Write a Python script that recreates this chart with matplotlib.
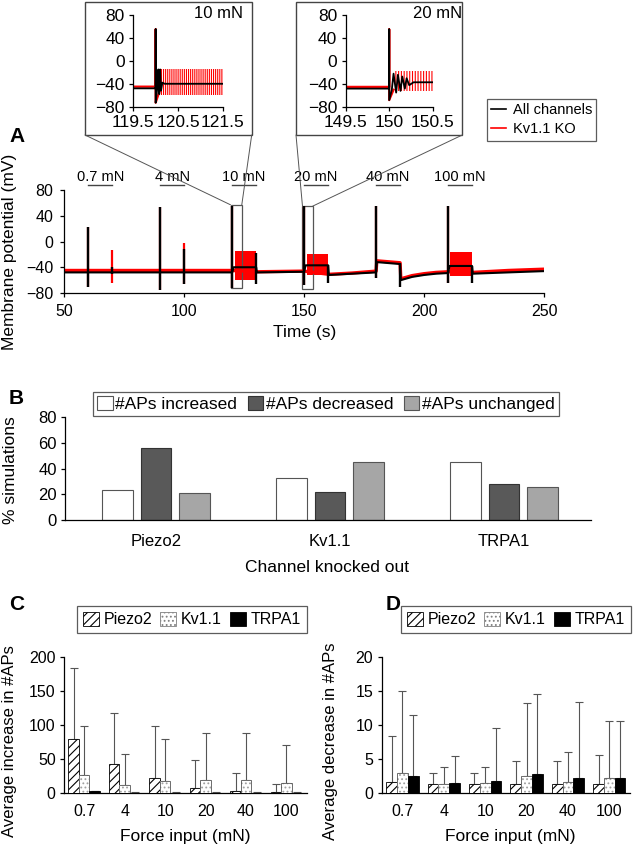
import numpy as np
import matplotlib
matplotlib.use("Agg")
import matplotlib.pyplot as plt
from matplotlib.patches import Rectangle, Patch, ConnectionPatch
from matplotlib.lines import Line2D

plt.rcParams.update({
    "font.family": ["Liberation Sans", "DejaVu Sans"],
    "font.size": 11, "axes.linewidth": 0.9, "hatch.linewidth": 0.8,
    "xtick.major.width": 0.9, "ytick.major.width": 0.9,
    "xtick.major.size": 3, "ytick.major.size": 3,
})
W, H = 633, 848

# ---------------- panel A data (time in s, potential in mV) ----------------
black_t = [50, 120, 120.6, 130, 130.3, 150, 150.6, 160, 160.3, 170, 180, 180.3,
           190, 190.3, 195, 200, 205, 210, 210.6, 220, 220.3, 235, 250]
black_v = [-48, -48, -40, -40, -48, -47, -37, -37, -52, -50, -48, -32,
           -35, -60, -55, -52, -50, -49, -38, -38, -50, -48, -46]
red_t = [50, 120, 130.3, 150, 160.3, 170, 180, 180.3, 190, 190.3, 195, 200,
         205, 210, 220.3, 235, 250]
red_v = [-45, -45, -47, -46, -51, -49, -46, -30, -33, -58, -53, -50,
         -48, -47, -48, -45, -43]
spike_t = [60, 70, 90, 100, 120, 130, 150, 160, 180, 190, 210, 220]
spike_lo = [-70, -51, -75, -66, -73, -66, -68, -65, -57, -70, -65, -65]
spike_hi = [22, -40, 53, -12, 55, -18, 55, -37, 55, -34, 55, -38]
red_spike_t = [60, 70, 90, 100, 120, 150, 180, 210]
red_spike_lo = [-70, -65, -75, -66, -73, -68, -57, -65]
red_spike_hi = [22, -13, 53, -3, 55, 55, 55, 55]
band_t0 = [121, 151, 211]
band_t1 = [130, 160, 220]
band_lo = [-60, -52, -53]
band_hi = [-14, -19, -17]
stim_t = [60, 90, 120, 150, 180, 210]
stim_labels = ["0.7 mN", "4 mN", "10 mN", "20 mN", "40 mN", "100 mN"]

# insets
ins1_black_t = [119.5, 120.0, 120.0, 120.0, 120.04, 120.06, 120.08, 120.1,
                120.12, 120.15, 120.2, 121.5]
ins1_black_v = [-48, -48, 55, -73, -45, -15, -58, -15, -52, -38, -40, -40]
ins1_red_t = [119.5, 120.0, 120.0, 120.0, 120.1]
ins1_red_v = [-45, -45, 55, -73, -50]
ins1_band = (120.1, 121.5, -60, -14)
ins2_black_t = [149.5, 150.0, 150.0, 150.0, 150.03, 150.05, 150.08, 150.1,
                150.13, 150.15, 150.18, 150.2, 150.23, 150.28, 150.5]
ins2_black_v = [-48, -48, 55, -68, -50, -22, -55, -24, -52, -27, -48, -30,
                -42, -37, -37]
ins2_red_t = [149.5, 150.0, 150.0, 150.0, 150.05]
ins2_red_v = [-45, -45, 55, -68, -50]
ins2_band = (150.05, 150.5, -52, -18)

# ---------------- panel B data ----------------
channels = ["Piezo2", "Kv1.1", "TRPA1"]
pct_increased = [23, 33, 45]
pct_decreased = [56, 22, 28]
pct_unchanged = [21, 45, 26]

# ---------------- panels C, D data ----------------
forces = ["0.7", "4", "10", "20", "40", "100"]
inc_piezo = [79, 43, 22, 8, 4, 2]
inc_piezo_sd = [104, 75, 76, 41, 25, 12]
inc_kv = [27, 12, 18, 20, 20, 15]
inc_kv_sd = [71, 45, 61, 69, 68, 55]
inc_trpa = [3, 1, 1, 1, 1, 1]
inc_trpa_sd = [1, 0.5, 0.5, 0.5, 0.5, 0.5]
dec_piezo = [1.6, 1.3, 1.3, 1.4, 1.4, 1.4]
dec_piezo_sd = [6.8, 1.6, 1.6, 3.3, 3.3, 4.2]
dec_kv = [3.0, 1.4, 1.5, 2.6, 1.7, 2.3]
dec_kv_sd = [12.0, 2.5, 2.4, 10.6, 4.4, 8.3]
dec_trpa = [2.5, 1.5, 1.8, 2.8, 2.3, 2.3]
dec_trpa_sd = [9.0, 4.0, 7.7, 11.8, 11.0, 8.3]


def box(l, t, r, b):
    return [l / W, 1 - b / H, (r - l) / W, (b - t) / H]


def fx(px):
    return px / W


def fy(py):
    return 1 - py / H


fig = plt.figure(figsize=(W / 100, H / 100), dpi=100)

# ================= A =================
axA = fig.add_axes(box(64.3, 190, 544, 293))
axA.plot(red_t, red_v, color="red", lw=2.4)
axA.vlines(red_spike_t, red_spike_lo, red_spike_hi, color="red", lw=1.6)
for t0, t1, lo, hi in zip(band_t0, band_t1, band_lo, band_hi):
    axA.fill_between([t0, t1], [lo, lo], [hi, hi], color="red", lw=0)
axA.plot(black_t, black_v, color="black", lw=1.5)
axA.vlines(spike_t, spike_lo, spike_hi, color="black", lw=1.7)
for t, lab in zip(stim_t, stim_labels):
    axA.plot([t, t + 10], [88, 88], color="#444444", lw=1.0, clip_on=False)
    axA.text(t + 5, 100, lab, ha="center", va="center", fontsize=10.5)
axA.set_xlim(50, 250)
axA.set_ylim(-80, 80)
axA.set_xticks([50, 100, 150, 200, 250])
axA.set_yticks([-80, -40, 0, 40, 80])
axA.tick_params(labelsize=11.5, pad=5)
for s in ["top", "right"]:
    axA.spines[s].set_visible(False)

zoom_boxes = [(119.3, 124.0, -73, 57), (149.3, 153.6, -74, 55)]
for x0, x1, y0, y1 in zoom_boxes:
    axA.add_patch(Rectangle((x0, y0), x1 - x0, y1 - y0, fill=False,
                            ec="#555555", lw=0.9, clip_on=False))

frames = [(85, 1.7, 251.7, 135), (296, 1.7, 462.3, 135)]
for (l, t, r, b), (x0, x1, y0, y1) in zip(frames, zoom_boxes):
    fig.add_artist(Rectangle((fx(l), fy(b)), (r - l) / W, (b - t) / H,
                             transform=fig.transFigure, fill=False,
                             ec="#444444", lw=1.0))
    for xf, xd in [(l, x0), (r, x1)]:
        fig.add_artist(ConnectionPatch((fx(xf), fy(b)), (xd, y1),
                                       coordsA=fig.transFigure,
                                       coordsB=axA.transData,
                                       color="#555555", lw=0.7))

insets = [
    (box(133.3, 15, 222.7, 106.7), ins1_black_t, ins1_black_v, ins1_red_t,
     ins1_red_v, ins1_band, [119.5, 120.5, 121.5], ["119.5", "120.5", "121.5"],
     "10 mN", 243, "||||||||"),
    (box(345.7, 15, 432.7, 107), ins2_black_t, ins2_black_v, ins2_red_t,
     ins2_red_v, ins2_band, [149.5, 150, 150.5], ["149.5", "150", "150.5"],
     "20 mN", 462, "||||||"),
]
for pos, bt, bv, rt, rv, band, xt, xtl, title, tx, hatch in insets:
    ax = fig.add_axes(pos)
    ax.fill_between([band[0], band[1]], [band[2]] * 2, [band[3]] * 2,
                    facecolor="none", edgecolor="red", hatch=hatch, lw=0)
    ax.plot(rt, rv, color="red", lw=1.6)
    ax.plot(bt, bv, color="black", lw=1.3)
    ax.set_xlim(xt[0], xt[-1])
    ax.set_ylim(-80, 80)
    ax.set_xticks(xt)
    ax.set_xticklabels(xtl)
    ax.set_yticks([-80, -40, 0, 40, 80])
    ax.tick_params(labelsize=12.5, pad=3)
    for s in ["top", "right"]:
        ax.spines[s].set_visible(False)
    fig.text(fx(tx), fy(13), title, ha="right", va="center", fontsize=12)

legA = fig.legend(handles=[Line2D([], [], color="black", lw=1.2),
                           Line2D([], [], color="red", lw=1.2)],
                  labels=["All channels", "Kv1.1 KO"], loc="upper left",
                  bbox_to_anchor=(fx(487), fy(99)), fancybox=False,
                  edgecolor="#333333", fontsize=10.5, handlelength=1.0,
                  borderaxespad=0, borderpad=0.3, handletextpad=0.45,
                  labelspacing=0.35)
legA.get_frame().set_linewidth(0.9)

fig.text(fx(9), fy(137), "A", weight="bold", fontsize=15, va="center")
fig.text(fx(10), fy(252), "Membrane potential (mV)", rotation=90,
         ha="center", va="center", fontsize=12.5)
fig.text(fx(305), fy(332), "Time (s)", ha="center", va="center", fontsize=12.5)

# ================= B =================
axB = fig.add_axes(box(65, 417.3, 591, 520))
xb = np.arange(len(channels))
bw, off = 0.178, 0.224
b1 = axB.bar(xb - off, pct_increased, bw, color="white", ec="#555555", lw=0.8)
b2 = axB.bar(xb, pct_decreased, bw, color="#595959", ec="#333333", lw=0.8)
b3 = axB.bar(xb + off, pct_unchanged, bw, color="#a6a6a6", ec="#555555", lw=0.8)
axB.set_xlim(-0.523, 2.5)
axB.set_ylim(0, 80)
axB.set_yticks([0, 20, 40, 60, 80])
axB.set_xticks(xb)
axB.set_xticklabels(channels)
axB.tick_params(axis="x", length=0, pad=10, labelsize=12)
axB.tick_params(axis="y", labelsize=12, pad=3)
for s in ["top", "right"]:
    axB.spines[s].set_visible(False)
legB = fig.legend([b1, b2, b3],
                  ["#APs increased", "#APs decreased", "#APs unchanged"],
                  loc="center", bbox_to_anchor=(fx(326), fy(404)), ncol=3,
                  fancybox=False, edgecolor="#333333", fontsize=12.5,
                  handlelength=0.9, handleheight=0.9, handletextpad=0.15,
                  columnspacing=0.6, borderpad=0.25, borderaxespad=0)
legB.get_frame().set_linewidth(0.9)
fig.text(fx(9), fy(399), "B", weight="bold", fontsize=15, va="center")
fig.text(fx(11), fy(470), "% simulations", rotation=90, ha="center",
         va="center", fontsize=12.5)
fig.text(fx(327), fy(568), "Channel knocked out", ha="center", va="center",
         fontsize=12.5)

# ================= C, D =================
xc = np.arange(len(forces))
cw, coff = 0.26, 0.26
panels = [
    (box(64, 656.7, 306.7, 793.3), inc_piezo, inc_piezo_sd, inc_kv, inc_kv_sd,
     inc_trpa, inc_trpa_sd, [0, 50, 100, 150, 200], "C", 9, 192,
     "Average increase in #APs", 10, 185),
    (box(381.7, 656.7, 630, 793.3), dec_piezo, dec_piezo_sd, dec_kv,
     dec_kv_sd, dec_trpa, dec_trpa_sd, [0, 5, 10, 15, 20], "D", 386,
     516, "Average decrease in #APs", 331, 510),
]
for (pos, pz, pz_sd, kv, kv_sd, tr, tr_sd, yt, letter, lx, gc,
     ylab, ylx, xlx) in panels:
    ax = fig.add_axes(pos)
    ax.errorbar(xc - coff, pz, yerr=[np.zeros(len(pz)), pz_sd], fmt="none",
                ecolor="#555555", elinewidth=0.8, capsize=3, capthick=0.8)
    ax.errorbar(xc, kv, yerr=[np.zeros(len(kv)), kv_sd], fmt="none",
                ecolor="#555555", elinewidth=0.8, capsize=3, capthick=0.8)
    ax.errorbar(xc + coff, tr, yerr=[np.zeros(len(tr)), tr_sd], fmt="none",
                ecolor="#555555", elinewidth=0.8, capsize=3, capthick=0.8)
    ax.bar(xc - coff, pz, cw, color="white", ec="black", hatch="////",
           lw=0.6, zorder=3)
    ax.bar(xc, kv, cw, color="white", ec="#a0a0a0", hatch="....", lw=0,
           zorder=3)
    ax.bar(xc, kv, cw, fill=False, ec="#555555", lw=0.6, zorder=3)
    ax.bar(xc + coff, tr, cw, color="black", ec="black", lw=0.6, zorder=3)
    ax.set_xlim(-0.5, 5.5)
    ax.set_ylim(yt[0], yt[-1])
    ax.set_yticks(yt)
    ax.set_xticks(xc)
    ax.set_xticklabels(forces)
    ax.tick_params(axis="x", length=0, pad=8, labelsize=11.5)
    ax.tick_params(axis="y", labelsize=11.5, pad=3)
    for s in ["top", "right"]:
        ax.spines[s].set_visible(False)
    handles = [Patch(facecolor="white", edgecolor="black", hatch="////", lw=0.6),
               Patch(facecolor="white", edgecolor="#808080", hatch="....", lw=0.6),
               Patch(facecolor="black", edgecolor="black", lw=0.6)]
    leg = fig.legend(handles, ["Piezo2", "Kv1.1", "TRPA1"], loc="center",
                     bbox_to_anchor=(fx(gc), fy(619.5)), ncol=3,
                     fancybox=False, edgecolor="#333333", fontsize=11.5,
                     handlelength=1.0, handleheight=1.0, handletextpad=0.3,
                     columnspacing=0.5, borderpad=0.35, borderaxespad=0)
    leg.get_frame().set_linewidth(0.9)
    fig.text(fx(lx), fy(605), letter, weight="bold", fontsize=15,
             va="center")
    fig.text(fx(ylx), fy(741), ylab, rotation=90, ha="center", va="center",
             fontsize=12)
    fig.text(fx(xlx), fy(836), "Force input (mN)", ha="center", va="center",
             fontsize=12.5)

fig.savefig("out.png", dpi=100)
